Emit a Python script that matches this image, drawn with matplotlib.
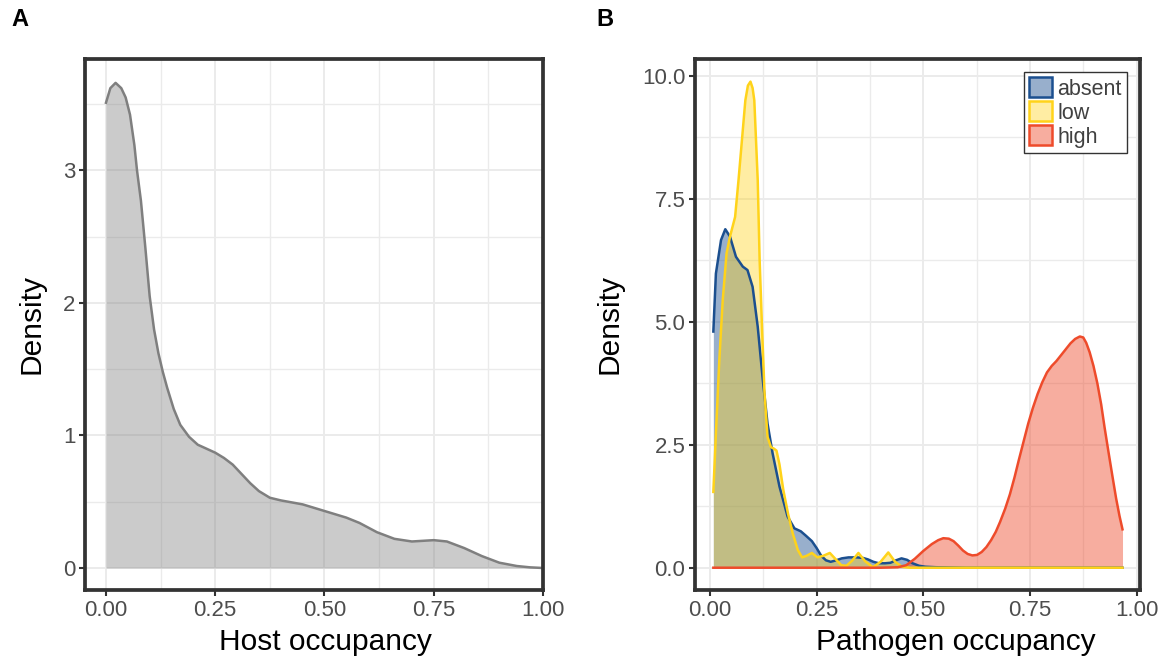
import matplotlib
matplotlib.use("Agg")
import matplotlib.pyplot as plt
from matplotlib.patches import Patch
from matplotlib.ticker import MultipleLocator
from matplotlib.colors import to_rgba

plt.rcParams['font.family'] = ['Liberation Sans', 'DejaVu Sans']

# A: host occupancy density
host_x = [0.0, 0.01, 0.022, 0.035, 0.045, 0.055, 0.065, 0.071, 0.08, 0.09, 0.10,
          0.11, 0.12, 0.13, 0.14, 0.155, 0.17, 0.19, 0.21, 0.23, 0.25, 0.27, 0.29,
          0.31, 0.33, 0.35, 0.375, 0.40, 0.45, 0.50, 0.55, 0.58, 0.62, 0.66, 0.70,
          0.75, 0.78, 0.82, 0.86, 0.90, 0.94, 0.97, 1.0]
host_y = [3.51, 3.62, 3.66, 3.62, 3.55, 3.42, 3.19, 3.00, 2.77, 2.42, 2.05,
          1.80, 1.62, 1.48, 1.36, 1.20, 1.08, 0.99, 0.93, 0.90, 0.87, 0.83, 0.78,
          0.71, 0.64, 0.58, 0.53, 0.51, 0.48, 0.43, 0.38, 0.34, 0.27, 0.22, 0.20,
          0.21, 0.20, 0.15, 0.09, 0.04, 0.015, 0.005, 0.0]

# B: pathogen occupancy density per group
absent_x = [0.008, 0.014, 0.026, 0.036, 0.047, 0.061, 0.077, 0.088, 0.100, 0.112,
            0.124, 0.135, 0.147, 0.163, 0.182, 0.198, 0.213, 0.225, 0.239, 0.250,
            0.261, 0.272, 0.283, 0.296, 0.309, 0.325, 0.344, 0.358, 0.370, 0.383,
            0.396, 0.410, 0.423, 0.436, 0.449, 0.462, 0.475, 0.490, 0.505, 0.53,
            0.60, 0.70, 0.80, 0.90, 0.967]
absent_y = [4.80, 5.98, 6.66, 6.88, 6.73, 6.32, 6.12, 6.05, 5.71, 4.90,
            3.81, 2.93, 2.32, 1.65, 1.04, 0.80, 0.74, 0.65, 0.54, 0.40,
            0.24, 0.15, 0.12, 0.15, 0.19, 0.21, 0.21, 0.20, 0.17, 0.12,
            0.09, 0.09, 0.10, 0.15, 0.19, 0.16, 0.09, 0.04, 0.02, 0.01,
            0.0, 0.0, 0.0, 0.0, 0.0]

low_x = [0.008, 0.014, 0.022, 0.030, 0.039, 0.047, 0.053, 0.059, 0.067, 0.075,
         0.083, 0.089, 0.095, 0.100, 0.104, 0.108, 0.112, 0.1165, 0.122, 0.128,
         0.135, 0.143, 0.150, 0.156, 0.163, 0.172, 0.183, 0.194, 0.206, 0.216,
         0.226, 0.239, 0.252, 0.265, 0.281, 0.295, 0.308, 0.320, 0.333, 0.348,
         0.364, 0.382, 0.400, 0.418, 0.434, 0.450, 0.470, 0.50, 0.60, 0.70,
         0.80, 0.90, 0.967]
low_y = [1.54, 2.73, 4.22, 5.44, 6.39, 6.73, 6.93, 7.13, 7.88, 8.69,
         9.50, 9.80, 9.88, 9.75, 9.50, 8.69, 7.88, 6.25, 4.90, 3.54,
         2.66, 2.45, 2.42, 2.38, 2.10, 1.58, 1.10, 0.70, 0.36, 0.21,
         0.24, 0.30, 0.21, 0.24, 0.30, 0.17, 0.05, 0.04, 0.14, 0.30,
         0.13, 0.01, 0.12, 0.31, 0.12, 0.02, 0.0, 0.0, 0.0, 0.0,
         0.0, 0.0, 0.0]

high_x = [0.008, 0.10, 0.20, 0.30, 0.40, 0.44, 0.46, 0.48, 0.50, 0.52, 0.535,
          0.547, 0.56, 0.571, 0.582, 0.593, 0.604, 0.615, 0.626, 0.637, 0.648,
          0.659, 0.670, 0.680, 0.692, 0.703, 0.714, 0.724, 0.735, 0.746, 0.757,
          0.768, 0.779, 0.790, 0.801, 0.812, 0.823, 0.834, 0.845, 0.856, 0.867,
          0.875, 0.882, 0.890, 0.899, 0.908, 0.917, 0.925, 0.934, 0.943, 0.952,
          0.960, 0.967]
high_y = [0.0, 0.0, 0.0, 0.0, 0.0, 0.01, 0.05, 0.18, 0.34, 0.48, 0.56,
          0.60, 0.59, 0.54, 0.45, 0.35, 0.28, 0.25, 0.26, 0.32, 0.42,
          0.56, 0.73, 0.93, 1.20, 1.49, 1.84, 2.19, 2.56, 2.93, 3.25,
          3.53, 3.77, 3.97, 4.10, 4.20, 4.32, 4.44, 4.56, 4.65, 4.70,
          4.68, 4.57, 4.38, 4.10, 3.75, 3.32, 2.85, 2.36, 1.88, 1.41,
          1.05, 0.78]

groups = ['absent', 'low', 'high']
group_colors = ['#1B4F8F', '#FFD31A', '#EE4B2B']
group_data = [(absent_x, absent_y), (low_x, low_y), (high_x, high_y)]

border = '#333333'
tick_col = '#4D4D4D'


def style_axes(ax, xmaj, ymaj):
    ax.xaxis.set_major_locator(MultipleLocator(xmaj))
    ax.xaxis.set_minor_locator(MultipleLocator(xmaj / 2))
    ax.yaxis.set_major_locator(MultipleLocator(ymaj))
    ax.yaxis.set_minor_locator(MultipleLocator(ymaj / 2))
    ax.grid(which='major', color='#EBEBEB', lw=1.4)
    ax.grid(which='minor', color='#EBEBEB', lw=1.0)
    ax.set_axisbelow(True)
    for s in ax.spines.values():
        s.set_color(border)
        s.set_linewidth(2.7)
    ax.tick_params(which='major', length=4, width=1.5, color=border,
                   labelsize=16, labelcolor=tick_col, pad=3)
    ax.tick_params(which='minor', length=0)


fig = plt.figure(figsize=(11.64, 6.69), dpi=100)

# panel A
axA = fig.add_axes([85 / 1164, 1 - 590 / 669, 458 / 1164, 531 / 669])
axA.fill_between(host_x, host_y, 0, color=to_rgba('#7F7F7F', 0.4), lw=0)
axA.plot(host_x, host_y, color='#7F7F7F', lw=1.8)
axA.set_xlim(-0.048, 1.0)
axA.set_ylim(-0.166, 3.84)
style_axes(axA, 0.25, 1)
axA.xaxis.set_major_formatter(lambda v, p: f'{v:.2f}')
axA.yaxis.set_major_formatter(lambda v, p: f'{v:.0f}')
axA.set_xlabel('Host occupancy', fontsize=21.5)
axA.set_ylabel('Density', fontsize=21.5)
axA.xaxis.set_label_coords(0.524, -0.072)
axA.yaxis.set_label_coords(-0.087, 0.5)

# panel B
axB = fig.add_axes([695 / 1164, 1 - 590 / 669, 445 / 1164, 531 / 669])
handles = []
for name, col, (gx, gy) in zip(groups, group_colors, group_data):
    a = 0.4 if name == 'low' else 0.45
    axB.fill_between(gx, gy, 0, color=to_rgba(col, a), lw=0)
    axB.plot(gx, gy, color=col, lw=1.8)
    handles.append(Patch(facecolor=to_rgba(col, a), edgecolor=col, lw=1.8, label=name))
axB.set_xlim(-0.035, 1.008)
axB.set_ylim(-0.453, 10.34)
style_axes(axB, 0.25, 2.5)
axB.xaxis.set_major_formatter(lambda v, p: f'{v:.2f}')
axB.yaxis.set_major_formatter(lambda v, p: f'{v:.1f}')
axB.set_xlabel('Pathogen occupancy', fontsize=21.5)
axB.set_ylabel('Density', fontsize=21.5)
axB.xaxis.set_label_coords(0.587, -0.072)
axB.yaxis.set_label_coords(-0.16, 0.5)

leg = axB.legend(handles=handles, loc='upper right', fontsize=15.5,
                 handlelength=1.05, handleheight=1.05, handletextpad=0.25,
                 labelspacing=0.08, borderpad=0.25, borderaxespad=0.6,
                 fancybox=False, framealpha=1)
leg.get_frame().set_edgecolor(border)
leg.get_frame().set_linewidth(1.0)
for t in leg.get_texts():
    t.set_color('#404040')

fig.text(20 / 1164, 1 - 20 / 669, 'A', fontsize=17, fontweight='bold', ha='center', va='center')
fig.text(605 / 1164, 1 - 20 / 669, 'B', fontsize=17, fontweight='bold', ha='center', va='center')

fig.savefig('out.png', dpi=100)
